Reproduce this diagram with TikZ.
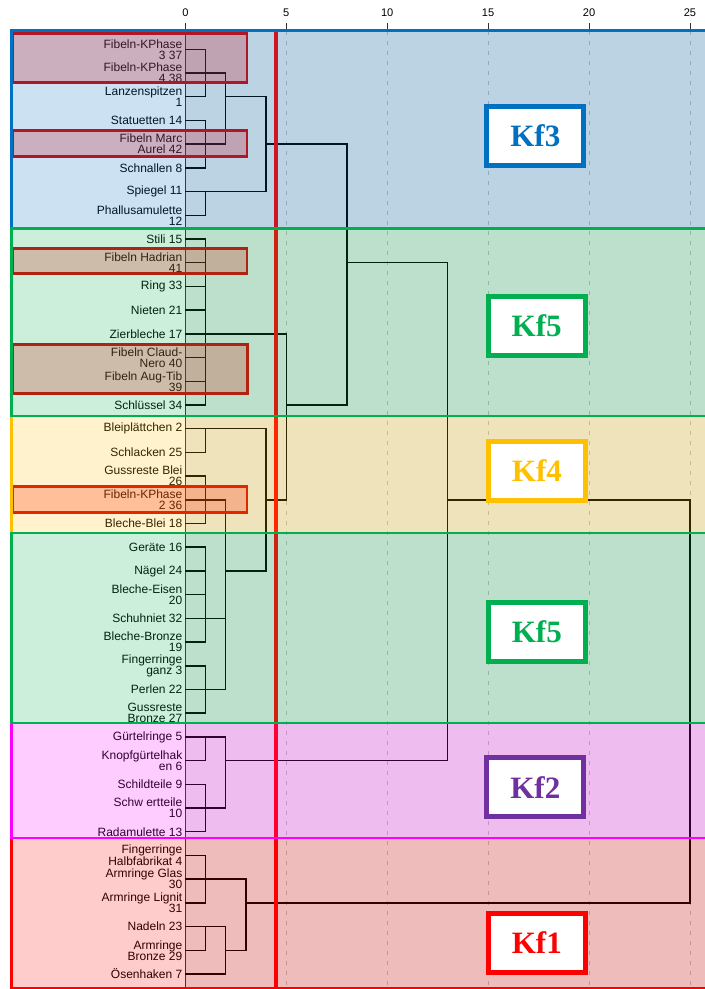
\documentclass[tikz,border=0pt]{standalone}
\usepackage{fontspec}
\setmainfont{Liberation Serif}
\setsansfont{Liberation Sans}

\definecolor{kfblue}{HTML}{0070C0}
\definecolor{kfgreen}{HTML}{00B050}
\definecolor{kfgold}{HTML}{FFC000}
\definecolor{kfpurple}{HTML}{7030A0}
\definecolor{kfred}{HTML}{FF0000}
\definecolor{kfpink}{HTML}{FF00FF}
\definecolor{fibred}{RGB}{220,0,0}
\definecolor{plotgray}{RGB}{236,236,236}

\begin{document}
\begin{tikzpicture}[
        x=0.75pt, y=-0.75pt,
        leaf/.style={anchor=east, inner sep=0pt, align=right, font=\sffamily\fontsize{9}{8.3}\selectfont},
        scalelabel/.style={inner sep=0pt, font=\sffamily\fontsize{8.3}{9}\selectfont},
        link/.style={line width=1.1pt, black},
        gridline/.style={gray!55, line width=0.6pt, dash pattern=on 3pt off 4.5pt},
        fibel/.style={draw=fibred, line width=2.2pt, fill=kfred, fill opacity=0.25},
        band/.style={draw=#1, fill=#1, fill opacity=0.2, line width=2pt},
        kfbox/.style={draw=#1, text=#1, fill=white, line width=3.75pt, inner sep=0pt,
            minimum width=72.75pt, minimum height=44.25pt,
            font=\bfseries\fontsize{23.3}{28}\selectfont},
    ]
    \useasboundingbox (0,0) rectangle (705,989);
    \clip (0,0) rectangle (705,989);

    % Plot area
    \fill[plotgray] (185.4,30.5) rectangle (705,989);

    % Cases, top to bottom
    \foreach \id/\txt [count=\row from 0] in {
        37/{Fibeln-KPhase\\3 37}, 38/{Fibeln-KPhase\\4 38}, 1/{Lanzenspitzen\\1},
        14/{Statuetten 14}, 42/{Fibeln Marc\\Aurel 42}, 8/{Schnallen 8},
        11/{Spiegel 11}, 12/{Phallusamulette\\12}, 15/{Stili 15},
        41/{Fibeln Hadrian\\41}, 33/{Ring 33}, 21/{Nieten 21},
        17/{Zierbleche 17}, 40/{Fibeln Claud-\\Nero 40}, 39/{Fibeln Aug-Tib\\39},
        34/{Schlüssel 34}, 2/{Bleiplättchen 2}, 25/{Schlacken 25},
        26/{Gussreste Blei\\26}, 36/{Fibeln-KPhase\\2 36}, 18/{Bleche-Blei 18},
        16/{Geräte 16}, 24/{Nägel 24}, 20/{Bleche-Eisen\\20},
        32/{Schuhniet 32}, 19/{Bleche-Bronze\\19}, 3/{Fingerringe\\ganz 3},
        22/{Perlen 22}, 27/{Gussreste\\Bronze 27}, 5/{Gürtelringe 5},
        6/{Knopfgürtelhak\\en 6}, 9/{Schildteile 9}, 10/{Schw ertteile\\10},
        13/{Radamulette 13}, 4/{Fingerringe\\Halbfabrikat 4}, 30/{Armringe Glas\\30},
        31/{Armringe Lignit\\31}, 23/{Nadeln 23}, 29/{Armringe\\Bronze 29},
        7/{Ösenhaken 7}} {
        \coordinate (c\id) at (185.4,{49.3+23.71*\row});
        \node[leaf] (l\id) at (182.6,{49.3+23.71*\row}) {\txt};
    }

    % Dendrogram in rescaled distance units
    \begin{scope}[shift={(185.4,0)}, x=15.135pt]
        \foreach \v in {5,10,...,25}
            \draw[gridline] (\v,31) -- (\v,989);
        \draw[black!80, line width=0.8pt] (0,30) -- (0,989);
        \foreach \v in {0,5,...,25} {
            \draw[black!80, line width=0.6pt] (\v,23) -- (\v,30);
            \node[scalelabel] (s\v) at (\v,13) {\v};
        }
        \foreach \v in {1,2,3,4,5,8,13,25}
            \coordinate (d\v) at (\v,0);

        % Kf3
        \draw[link] (c37) -| (d1 |- c1) -- (c1);
        \draw[link] (c14) -| (d1 |- c8) -- (c8);
        \draw[link] (c11) -| (d1 |- c12) -- (c12);
        \draw[link] (c38) -| (d2 |- c42) -- (c42);
        \draw[link] (d2 |- c1) -| (d4 |- c11) -- (c11);
        \draw[link] (d4 |- c42) -| (d8 |- c34) -- (d5 |- c34);

        % Kf5, upper group
        \draw[link] (c15) -| (d1 |- c34) -- (c34);
        \foreach \id in {41,33,21,40,39}
            \draw[link] (c\id) -- (d1 |- c\id);
        \draw[link] (c17) -| (d5 |- c36) -- (d4 |- c36);

        % Kf4 and lower Kf5
        \draw[link] (c2) -| (d1 |- c25) -- (c25);
        \draw[link] (c26) -| (d1 |- c18) -- (c18);
        \draw[link] (c16) -| (d1 |- c19) -- (c19);
        \foreach \id in {24,20,32}
            \draw[link] (c\id) -- (d1 |- c\id);
        \draw[link] (c3) -| (d1 |- c27) -- (c27);
        \draw[link] (c36) -| (d2 |- c22) -- (c22);
        \draw[link] (c32) -- (d2 |- c32);
        \draw[link] (c2) -| (d4 |- c24) -- (d2 |- c24);

        % Kf2
        \draw[link] (c5) -| (d2 |- c10) -- (c10);
        \draw[link] (d1 |- c5) |- (c6);
        \draw[link] (c9) -| (d1 |- c13) -- (c13);

        % Kf1
        \draw[link] (c4) -| (d1 |- c31) -- (c31);
        \draw[link] (c23) -| (d2 |- c7) -- (c7);
        \draw[link] (d1 |- c23) |- (c29);
        \draw[link] (c30) -| (d3 |- c29) -- (d2 |- c29);

        % upper levels
        \draw[link] (d8 |- c41) -| (d13 |- c6) -- (d2 |- c6);
        \draw[link] (d13 |- c36) -| (d25 |- c31) -- (d3 |- c31);

        % cut
        \draw[kfred, line width=3pt] (4.5,31) -- (4.5,989);
    \end{scope}

    % Fibeln
    \draw[fibel] (13,33.2) rectangle (247,82.2);
    \draw[fibel] (13,130.5) rectangle (247,156.8);
    \draw[fibel] (13,248.5) rectangle (247,273.8);
    \draw[fibel] (13,344.2) rectangle (247.5,393.5);
    \draw[fibel] (13,486.5) rectangle (247,512.8);

    % Kf bands
    \draw[band=kfblue]  (11.5,30.5) rectangle (720,228.3);
    \draw[band=kfgold]  (11.5,416) rectangle (720,533);
    \draw[band=kfred]   (11.5,838) rectangle (720,988);
    \draw[band=kfpink]  (11.5,723) rectangle (720,838);
    \draw[band=kfgreen] (11.5,228.3) rectangle (720,416);
    \draw[band=kfgreen] (11.5,533) rectangle (720,723);

    % Kf labels
    \node[kfbox=kfblue]   (kf3)  at (535.3,135.5) {Kf3};
    \node[kfbox=kfgreen]  (kf5a) at (536.7,326) {Kf5};
    \node[kfbox=kfgold]   (kf4)  at (537,471) {Kf4};
    \node[kfbox=kfgreen]  (kf5b) at (536.8,632) {Kf5};
    \node[kfbox=kfpurple] (kf2)  at (535.3,787.3) {Kf2};
    \node[kfbox=kfred]    (kf1)  at (536.8,942.7) {Kf1};
\end{tikzpicture}
\end{document}
